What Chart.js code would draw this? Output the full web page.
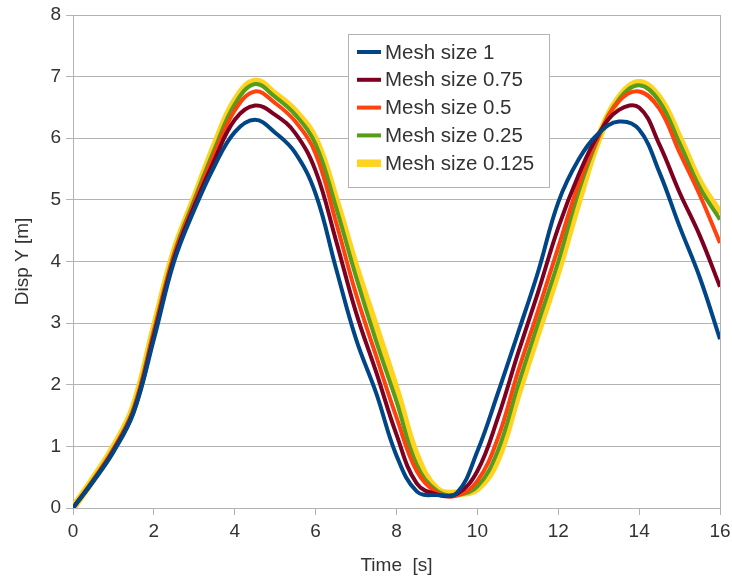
<!doctype html>
<html lang="en">
<head>
  <meta charset="utf-8" />
  <title>Disp Y vs Time</title>
  <script src="https://cdn.jsdelivr.net/npm/chart.js@4.4.1/dist/chart.umd.min.js"></script>
  <style>
    body { margin: 0; background: #ffffff; }
    #wrap { width: 732px; height: 579px; }
  </style>
</head>
<body>
  <div id="wrap"><canvas id="chart" width="732" height="579"></canvas></div>

  <script>
    // time axis (s)
    const time = [0, 0.5, 1, 1.5, 2, 2.5, 3, 3.5, 4, 4.5, 5, 5.5, 6, 6.5, 7, 7.5, 8,
      8.5, 9, 9.5, 10, 10.5, 11, 11.5, 12, 12.5, 13, 13.5, 14, 14.5, 15, 15.5, 16];

    // Disp Y [m] per mesh size
    const mesh1 = [0, 0.43, 0.91, 1.55, 2.74, 4.0, 4.84, 5.55, 6.1, 6.3, 6.09, 5.76, 5.1, 3.9, 2.74, 1.86, 0.85,
      0.27, 0.21, 0.25, 0.92, 1.85, 2.83, 3.83, 4.96, 5.65, 6.08, 6.27, 6.14, 5.45, 4.57, 3.74, 2.74];
    const mesh075 = [0, 0.44, 0.93, 1.57, 2.8, 4.05, 4.9, 5.65, 6.3, 6.53, 6.38, 6.08, 5.47, 4.35, 3.17, 2.2, 1.19,
      0.4, 0.22, 0.23, 0.6, 1.45, 2.5, 3.5, 4.55, 5.4, 6.07, 6.46, 6.5, 5.9, 5.12, 4.42, 3.59];
    const mesh05 = [0, 0.45, 0.95, 1.6, 2.85, 4.1, 4.95, 5.75, 6.45, 6.76, 6.57, 6.27, 5.75, 4.65, 3.47, 2.46, 1.47,
      0.6, 0.25, 0.2, 0.44, 1.12, 2.2, 3.2, 4.23, 5.25, 6.04, 6.6, 6.76, 6.48, 5.77, 5.08, 4.3];
    const mesh025 = [0, 0.46, 0.96, 1.62, 2.88, 4.13, 5.0, 5.82, 6.55, 6.88, 6.67, 6.38, 5.9, 4.89, 3.75, 2.7, 1.73,
      0.7, 0.28, 0.21, 0.35, 0.92, 1.98, 3.0, 4.0, 5.13, 6.02, 6.63, 6.86, 6.6, 5.92, 5.2, 4.68];
    const mesh0125 = [0, 0.47, 0.98, 1.64, 2.9, 4.15, 5.02, 5.87, 6.6, 6.92, 6.71, 6.43, 5.97, 5.0, 3.9, 2.91, 1.91,
      0.84, 0.3, 0.24, 0.32, 0.8, 1.84, 2.86, 3.86, 4.98, 6.0, 6.65, 6.9, 6.65, 6.0, 5.28, 4.78];

    const seriesLabels = ["Mesh size 1", "Mesh size 0.75", "Mesh size 0.5", "Mesh size 0.25", "Mesh size 0.125"];
    const seriesData = [mesh1, mesh075, mesh05, mesh025, mesh0125];
    const seriesColors = ["#004586", "#7e0021", "#ff420e", "#579d1c", "#ffd320"];
    const seriesWidths = [4, 4, 4, 4, 7.5];

    const gridColor = "#b3b3b3";
    const textColor = "#333333";
    const fontFamily = "'Liberation Sans', Arial, sans-serif";

    const datasets = seriesLabels.map((label, i) => ({
      label: label,
      data: time.map((t, j) => ({ x: t, y: seriesData[i][j] })),
      borderColor: seriesColors[i],
      backgroundColor: seriesColors[i],
      borderWidth: seriesWidths[i],
      pointRadius: 0,
      tension: 0.4,
      fill: false,
    }));

    // legend box drawn inside the plot area
    const boxLegend = {
      id: "boxLegend",
      afterDraw(chart) {
        const ctx = chart.ctx;
        const x0 = 348, y0 = 34, w = 201, h = 153;
        ctx.save();
        ctx.fillStyle = "#ffffff";
        ctx.fillRect(x0, y0, w, h);
        ctx.strokeStyle = gridColor;
        ctx.lineWidth = 1;
        ctx.strokeRect(x0 + 0.5, y0 + 0.5, w, h);
        ctx.font = "20.5px " + fontFamily;
        ctx.textBaseline = "middle";
        chart.data.datasets.forEach((ds, i) => {
          const cy = y0 + 18 + i * 27.8;
          ctx.strokeStyle = ds.borderColor;
          ctx.lineWidth = ds.borderWidth;
          ctx.beginPath();
          ctx.moveTo(x0 + 9, cy);
          ctx.lineTo(x0 + 33, cy);
          ctx.stroke();
          ctx.fillStyle = textColor;
          ctx.fillText(ds.label, x0 + 37, cy + 1);
        });
        ctx.restore();
      },
    };

    new Chart(document.getElementById("chart"), {
      type: "line",
      data: { datasets: datasets },
      plugins: [boxLegend],
      options: {
        responsive: false,
        animation: false,
        layout: { padding: { top: 15, right: 12, left: 0, bottom: 0 } },
        plugins: {
          legend: { display: false },
          tooltip: { enabled: false },
        },
        scales: {
          x: {
            type: "linear",
            min: 0,
            max: 16,
            afterFit: (scale) => {
              scale.height = 71;
              scale.paddingLeft = 0;
              scale.paddingRight = 0;
            },
            ticks: { stepSize: 2, color: textColor, font: { size: 19, family: fontFamily }, padding: 5, maxRotation: 0 },
            grid: {
              color: (c) => (c.tick && c.tick.value === 16 ? gridColor : "rgba(0,0,0,0)"),
              tickColor: gridColor,
              tickLength: 7,
              lineWidth: 1,
            },
            border: { color: gridColor, width: 1 },
            title: {
              display: true,
              text: "Time  [s]",
              color: textColor,
              font: { size: 19, family: fontFamily },
              padding: { top: 0, bottom: 2 },
            },
          },
          y: {
            min: 0,
            max: 8,
            afterFit: (scale) => {
              scale.width = 73;
              scale.paddingTop = 0;
              scale.paddingBottom = 0;
            },
            ticks: { stepSize: 1, color: textColor, font: { size: 19, family: fontFamily }, padding: 5 },
            grid: { color: gridColor, tickColor: gridColor, tickLength: 7, lineWidth: 1 },
            border: { color: gridColor, width: 1 },
            title: {
              display: true,
              text: "Disp Y [m]",
              color: textColor,
              font: { size: 19, family: fontFamily },
              padding: { top: 11, bottom: 0 },
            },
          },
        },
      },
    });
  </script>
</body>
</html>
